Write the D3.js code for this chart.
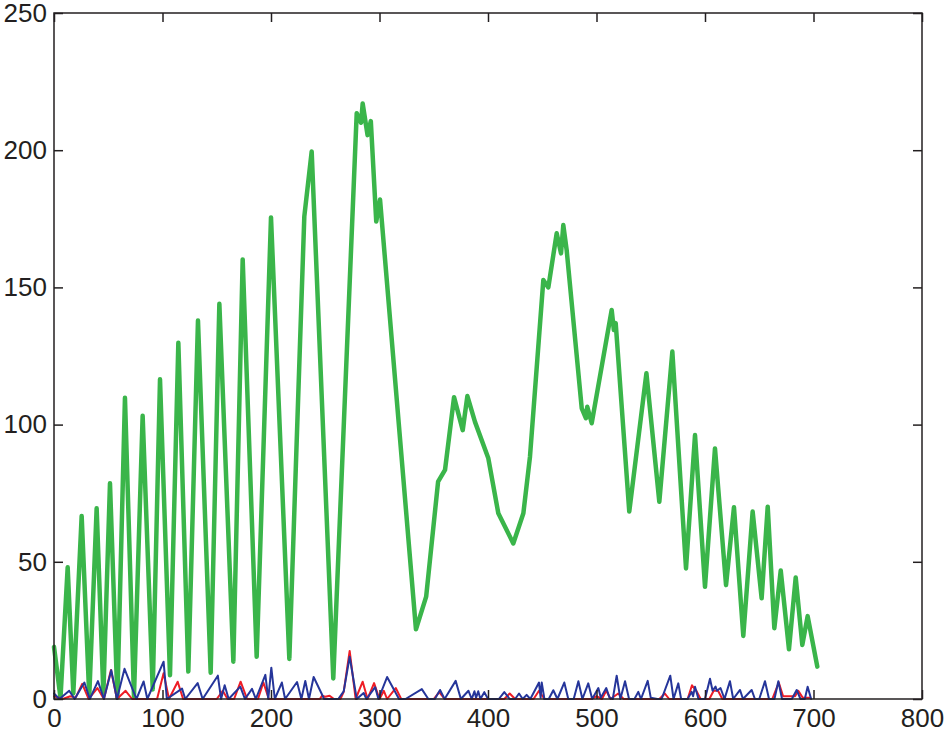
<!DOCTYPE html>
<html>
<head>
<meta charset="utf-8">
<script src="https://cdn.jsdelivr.net/npm/d3@7"></script>
<style>
  html, body { margin: 0; padding: 0; background: #fff; }
  svg { display: block; }
</style>
</head>
<body>
<script>
// ---------- DATA ----------
const xTicks = [0, 100, 200, 300, 400, 500, 600, 700, 800];
const yTicks = [0, 50, 100, 150, 200, 250];

const greenX = [0, 6, 12.6, 17.8, 25.5, 32.5, 39.3, 45.5, 51.6, 58.4, 65.4, 73.7, 81.7, 91, 97.7, 106.9, 114.6, 123.8, 132.7, 144.4, 152.4, 165.3, 173.9, 186.8, 200, 216.9, 230.7, 237.5, 257.4, 279, 283, 284.5, 289, 292, 297, 300.5, 333.6, 343, 354, 360.4, 368.7, 376.7, 381, 388, 400.3, 409.5, 423.3, 432.6, 438.7, 451, 455.6, 463.3, 467.3, 469.4, 472.5, 486.4, 490.3, 491.5, 495.6, 514, 516, 517.7, 530.2, 546, 557.9, 569.9, 582.5, 590.8, 600, 609.2, 619.4, 626.7, 635.3, 643.9, 652.2, 657.8, 663.9, 669.8, 677.4, 683.6, 689.7, 694.6, 703.5];
const greenY = [19, 0.5, 48, 2, 66.7, 1, 69.5, 2, 78.6, 0.5, 109.8, 1, 103.2, 3.5, 116.5, 8.7, 129.8, 10, 137.9, 9.6, 144, 13.6, 160.2, 15.4, 175.5, 14.6, 175.8, 199.5, 7.5, 213.5, 210, 217, 205.5, 210.6, 174, 182, 25.4, 37.3, 79.2, 83.5, 110, 98, 110.4, 101, 87.7, 67.7, 56.7, 67.7, 88.3, 152.7, 150, 169.7, 162.4, 172.7, 163.6, 105.9, 102.3, 106.5, 100.5, 141.8, 134.5, 137, 68.3, 118.7, 71.9, 126.6, 47.6, 96.2, 40.9, 91.3, 41.5, 69.9, 23, 68.3, 36.7, 70.1, 25.8, 46.8, 18.1, 44.3, 19.7, 30.2, 11.8];

const redX = [0, 8, 15, 20, 26, 32, 40, 46, 52.5, 58, 66, 72, 95, 101, 106, 114, 119, 150, 155.5, 160, 166, 172, 178, 188, 193, 198, 245, 247, 250, 254, 258, 264, 267, 272.5, 278, 284.5, 289, 295, 300, 304, 307, 315, 320, 350, 355, 360, 415, 420, 425, 442, 447, 452, 495, 500, 505, 509, 513, 520, 525, 558, 563, 567, 584, 588, 592, 596, 604, 608, 612, 616, 662, 668, 672, 683, 686, 690, 697];
const redY = [1, 0, 1, 0.5, 5.5, 0, 4, 0, 10.6, 0, 3, 0, 0, 9.4, 0, 6.3, 0, 0, 3, 0, 0, 6.3, 0, 0, 6, 0, 0, 1.2, 0.8, 1.2, 0, 0, 2.6, 17.5, 0, 6.3, 0, 5.8, 0, 3, 0, 4, 0, 0, 2.5, 0, 0, 2, 0, 0, 3, 0, 0, 1, 0, 3, 0, 2, 0, 0, 2, 0, 0, 5, 3, 0, 0, 3, 3, 0, 0, 6, 1, 1, 3, 0.5, 0.5];

const blueX = [0, 5, 14, 19, 28, 33, 40.5, 46, 52.8, 58, 65, 76, 82.6, 86, 101, 104, 118, 121, 132.4, 137, 151, 154, 157.3, 161, 171.7, 176, 182.5, 186, 194.8, 197.5, 200.3, 203.5, 210, 213, 224, 228, 231.6, 235, 239.3, 249, 262, 267, 272.5, 279, 285.4, 288, 296, 299, 307, 318, 324, 339, 345, 351, 355.8, 360, 370.2, 375, 382, 385, 387.5, 389, 391, 393, 396.6, 400, 410, 415, 420, 425, 428.6, 432, 435.6, 439, 447, 448.5, 449.5, 452, 456, 460.2, 464, 470.3, 474, 479, 483.3, 487, 492.4, 496, 501.7, 504, 509, 512, 515, 518.6, 522, 526.3, 530, 535, 538.5, 541, 547.2, 550, 556, 560, 568, 571, 575.4, 578, 584, 587.7, 589, 590.8, 594, 600, 604.6, 607, 609.7, 611, 614.3, 618, 623, 626, 632.3, 635, 643, 646, 650, 655.3, 659, 664, 667.6, 671, 680, 684.5, 688, 692, 694.6, 697.8];
const blueY = [2, 0, 3, 0, 6, 0, 6.5, 0, 10.5, 0, 11, 0, 6.4, 0, 13.6, 0, 3.8, 0, 5.8, 0, 8.5, 0, 5, 0, 4.5, 0, 3.7, 0, 8.8, 0, 11.4, 0, 6, 0, 6.2, 0, 6.6, 0, 8, 0, 0, 2.8, 15.4, 0, 2.2, 0, 4.3, 0, 8, 0, 0, 3.6, 0, 0, 3.3, 0, 6.6, 0, 3, 0, 2.8, 0.5, 2.8, 0, 2.5, 0, 0, 2.5, 0, 0, 2, 0, 1.5, 0, 6, 0.5, 6, 0, 0, 3.2, 0, 6, 0, 0, 6.5, 0, 5.7, 0, 4, 0.5, 4, 0.5, 0, 8.5, 0, 6.5, 0, 0, 2.6, 0, 6.6, 0.5, 0, 0, 8.5, 0, 5.7, 0, 0, 2.6, 1, 4.5, 0, 0, 7.4, 3, 4.5, 3, 4, 0, 6.5, 0, 3.3, 0, 3.3, 0, 0, 6.5, 0, 0, 6.5, 0, 0, 3.3, 0, 0, 4.5, 0];

// ---------- LAYOUT ----------
const W = 944, H = 735;
const mLeft = 54, mRight = 922, mTop = 13, mBottom = 699;
const textColor = "#231f20";
const fontFamily = "'Liberation Sans', Arial, Helvetica, sans-serif";

const svg = d3.select("body").append("svg")
  .attr("width", W).attr("height", H);

const x = d3.scaleLinear().domain([0, 800]).range([mLeft, mRight]);
const y = d3.scaleLinear().domain([0, 250]).range([mBottom, mTop]);

// series
const line = d3.line().x(d => x(d[0])).y(d => y(d[1]));
const series = [
  { xs: greenX, ys: greenY, color: "#3ab54a", width: 4.5 },
  { xs: redX, ys: redY, color: "#ee1c25", width: 2 },
  { xs: blueX, ys: blueY, color: "#25359a", width: 2 }
];
series.forEach(s => {
  const pts = s.xs.map((v, i) => [v, s.ys[i]]);
  svg.append("path")
    .attr("d", line(pts))
    .attr("fill", "none")
    .attr("stroke", s.color)
    .attr("stroke-width", s.width)
    .attr("stroke-linejoin", "round")
    .attr("stroke-linecap", "round");
});

// axes (inward ticks, MATLAB style)
const tickLen = 9;
function styleAxis(g, showText) {
  g.select(".domain").remove();
  g.selectAll(".tick line").attr("stroke", textColor).attr("stroke-width", 1.5);
  g.selectAll(".tick text")
    .attr("fill", textColor)
    .style("font-family", fontFamily)
    .style("font-size", "26px");
  if (!showText) g.selectAll(".tick text").remove();
}

svg.append("g").attr("transform", `translate(0,${mBottom})`)
  .call(d3.axisBottom(x).tickValues(xTicks).tickSizeInner(-tickLen).tickSizeOuter(0).tickPadding(10))
  .call(g => styleAxis(g, true));
svg.append("g").attr("transform", `translate(0,${mTop})`)
  .call(d3.axisTop(x).tickValues(xTicks).tickSizeInner(-tickLen).tickSizeOuter(0))
  .call(g => styleAxis(g, false));
svg.append("g").attr("transform", `translate(${mLeft},0)`)
  .call(d3.axisLeft(y).tickValues(yTicks).tickSizeInner(-tickLen).tickSizeOuter(0).tickPadding(7))
  .call(g => styleAxis(g, true));
svg.append("g").attr("transform", `translate(${mRight},0)`)
  .call(d3.axisRight(y).tickValues(yTicks).tickSizeInner(-tickLen).tickSizeOuter(0))
  .call(g => styleAxis(g, false));

// box
svg.append("rect")
  .attr("x", mLeft).attr("y", mTop)
  .attr("width", mRight - mLeft).attr("height", mBottom - mTop)
  .attr("fill", "none").attr("stroke", textColor).attr("stroke-width", 1.5);
</script>
</body>
</html>
